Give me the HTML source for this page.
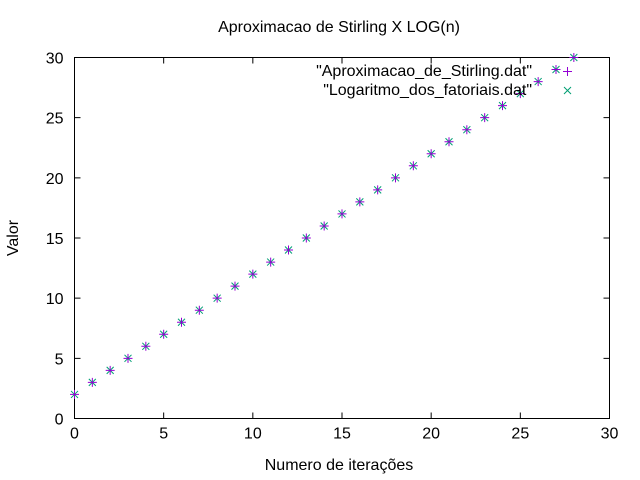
<!DOCTYPE html>
<html><head><meta charset="utf-8"><style>body{margin:0;background:#fff}svg{display:block;font-family:"Liberation Sans",sans-serif}</style></head>
<body>
<svg id="chart" width="640" height="480">
<rect width="640" height="480" fill="#fff"/>
<text x="339" y="32" font-size="16" text-anchor="middle">Aproximacao de Stirling X LOG(n)</text>
<text x="339" y="470" font-size="16" text-anchor="middle">Numero de iterações</text>
<text x="18" y="238" font-size="16" text-anchor="middle" transform="rotate(-90 18 238)">Valor</text>
<g id="axes"></g>
<g id="marks"></g>
<g>
<text x="532" y="76" font-size="16" text-anchor="end">"Aproximacao_de_Stirling.dat"</text>
<text x="532" y="95" font-size="16" text-anchor="end">"Logaritmo_dos_fatoriais.dat"</text>
<path d="M563 71.5h9M567.5 67v9" stroke="#9400d3" stroke-width="1"/>
<path d="M564 87l7 7M564 94l7 -7" stroke="#009e73" stroke-width="1"/>
</g>
</svg>
<script>
const xs = [0,1,2,3,4,5,6,7,8,9,10,11,12,13,14,15,16,17,18,19,20,21,22,23,24,25,26,27,28];
const stirling = [2,3,4,5,6,7,8,9,10,11,12,13,14,15,16,17,18,19,20,21,22,23,24,25,26,27,28,29,30];
const logaritmo = [2,3,4,5,6,7,8,9,10,11,12,13,14,15,16,17,18,19,20,21,22,23,24,25,26,27,28,29,30];
const xTicks = [0,5,10,15,20,25,30];
const yTicks = [0,5,10,15,20,25,30];
const L=74.5,R=609.5,T=57.5,B=418.5;
const sx=v=>L+(v-0)/30*(R-L);
const sy=v=>B-(v-0)/30*(B-T);
const NS="http://www.w3.org/2000/svg";
const axes=document.getElementById('axes'), marks=document.getElementById('marks');
function mk(tag,attrs,parent){const e=document.createElementNS(NS,tag);for(const k in attrs)e.setAttribute(k,attrs[k]);parent.appendChild(e);return e;}
const border=mk('rect',{x:L,y:T,width:R-L,height:B-T,fill:'none',stroke:'#000','stroke-width':1},axes);


xTicks.forEach(v=>{const x=sx(v);
 const t=mk('path',{d:`M${x} ${B}v-6M${x} ${T}v6`,stroke:'#000'},axes);
 
 
 const l=mk('text',{x:x,y:B+20,'font-size':16,'text-anchor':'middle'},axes);l.textContent=v;
 
 
});
yTicks.forEach(v=>{const y=sy(v);
 const t=mk('path',{d:`M${L} ${y}h6M${R} ${y}h-6`,stroke:'#000'},axes);
 
 
 const l=mk('text',{x:L-11,y:y+6,'font-size':16,'text-anchor':'end'},axes);l.textContent=v;
 
 
});
xs.forEach((xv,i)=>{const x=sx(xv),y=sy(logaritmo[i]);
 const p=mk('path',{d:`M${x-3.5} ${y-3.5}l7 7M${x-3.5} ${y+3.5}l7 -7`,stroke:'#009e73','stroke-width':1},marks);
 
 
});
xs.forEach((xv,i)=>{const x=sx(xv),y=sy(stirling[i]);
 const p=mk('path',{d:`M${x-4.5} ${y}h9M${x} ${y-4.5}v9`,stroke:'#9400d3','stroke-width':1},marks);
 
 
});
</script>
</body></html>
